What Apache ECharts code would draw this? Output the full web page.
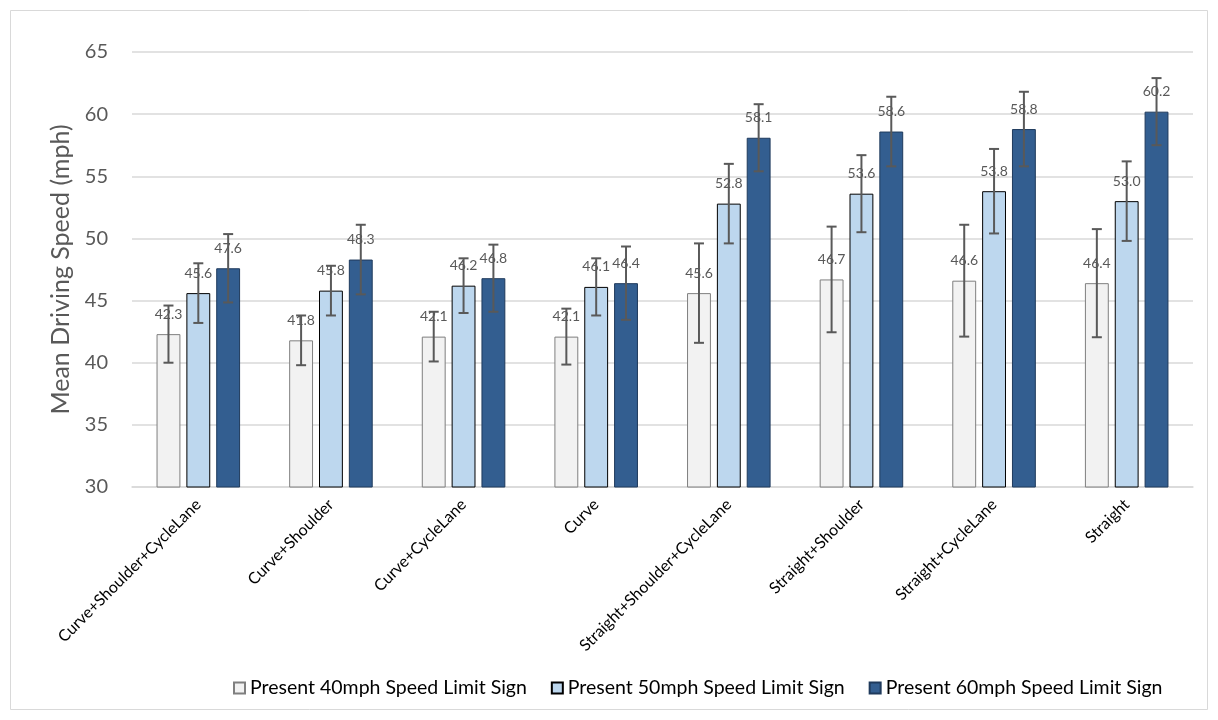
<!DOCTYPE html>
<html>
<head>
<meta charset="utf-8">
<title>Mean Driving Speed</title>
<script src="https://cdn.jsdelivr.net/npm/echarts@6/dist/echarts.min.js"></script>
<style>
  html, body { margin: 0; padding: 0; background: #fff; }
  #chart { width: 1218px; height: 720px; }
</style>
</head>
<body>
<div id="chart"></div>
<script>
// categories and series values
const categories = ['Curve+Shoulder+CycleLane', 'Curve+Shoulder', 'Curve+CycleLane', 'Curve',
    'Straight+Shoulder+CycleLane', 'Straight+Shoulder', 'Straight+CycleLane', 'Straight'];
const seriesNames = ['Present 40mph Speed Limit Sign', 'Present 50mph Speed Limit Sign', 'Present 60mph Speed Limit Sign'];

const speed40 = [42.3, 41.8, 42.1, 42.1, 45.6, 46.7, 46.6, 46.4];
const speed50 = [45.6, 45.8, 46.2, 46.1, 52.8, 53.6, 53.8, 53.0];
const speed60 = [47.6, 48.3, 46.8, 46.4, 58.1, 58.6, 58.8, 60.2];

// +/- error bar half-lengths
const err40 = [2.3, 2.0, 2.0, 2.25, 4.0, 4.25, 4.5, 4.35];
const err50 = [2.4, 2.0, 2.2, 2.3, 3.2, 3.1, 3.4, 3.2];
const err60 = [2.75, 2.8, 2.7, 2.95, 2.7, 2.8, 3.0, 2.7];

const yTicks = [30, 35, 40, 45, 50, 55, 60, 65];

const FONT = 'Lato';
const BAR_W = 0.18;   // fraction of category band
const BAR_GAP = 0.25; // fraction of bar width

const chart = echarts.init(document.getElementById('chart'), null, { renderer: 'canvas' });

function barSeries(name, values, fill, border) {
    return {
        name: name,
        type: 'bar',
        data: values,
        barWidth: (BAR_W * 100) + '%',
        barGap: (BAR_GAP * 100) + '%',
        itemStyle: { color: fill, borderColor: border, borderWidth: 1 },
        label: {
            show: true,
            position: 'top',
            distance: 13,
            formatter: p => p.value.toFixed(1),
            color: '#595959',
            fontFamily: FONT,
            fontSize: 14
        },
        z: 2
    };
}

// error bars drawn with a custom series, shifted to sit on the matching bar
function errorSeries(idx, values, errs) {
    return {
        type: 'custom',
        name: 'err' + idx,
        data: values.map((v, i) => [i, v, errs[i]]),
        encode: { x: 0, y: 1 },
        z: 5,
        silent: true,
        renderItem: function (params, api) {
            const band = api.size([1, 0])[0];
            const w = band * BAR_W;
            const off = (idx - 1) * (w + w * BAR_GAP);
            const c = api.value(0), v = api.value(1), e = api.value(2);
            const top = api.coord([c, v + e]);
            const bot = api.coord([c, v - e]);
            const x = top[0] + off;
            const cap = 5;
            const style = { stroke: '#595959', lineWidth: 2 };
            return {
                type: 'group',
                children: [
                    { type: 'line', shape: { x1: x, y1: top[1], x2: x, y2: bot[1] }, style: style },
                    { type: 'line', shape: { x1: x - cap, y1: top[1], x2: x + cap, y2: top[1] }, style: style },
                    { type: 'line', shape: { x1: x - cap, y1: bot[1], x2: x + cap, y2: bot[1] }, style: style }
                ]
            };
        }
    };
}

const option = {
    backgroundColor: '#ffffff',
    animation: false,
    graphic: [{
        type: 'rect',
        shape: { x: 10.5, y: 10.5, width: 1197, height: 699 },
        style: { fill: 'none', stroke: '#d9d9d9', lineWidth: 1 },
        silent: true
    }],
    grid: { left: 132, right: 25, top: 52, bottom: 233 },
    legend: {
        data: seriesNames,
        bottom: 17,
        left: 228,
        itemWidth: 11,
        itemHeight: 11,
        itemGap: 24,
        icon: 'rect',
        textStyle: { fontFamily: FONT, fontSize: 19.5, color: '#000' }
    },
    xAxis: {
        type: 'category',
        data: categories,
        axisLine: { lineStyle: { color: '#d9d9d9', width: 1.5 } },
        axisTick: { show: false },
        axisLabel: {
            rotate: 45,
            interval: 0,
            margin: 15,
            color: '#000',
            fontFamily: FONT,
            fontSize: 16
        }
    },
    yAxis: {
        type: 'value',
        min: 30,
        max: 65,
        interval: 5,
        name: 'Mean Driving Speed (mph)',
        nameLocation: 'middle',
        nameGap: 58,
        nameTextStyle: { fontFamily: FONT, fontSize: 25, color: '#595959' },
        axisLine: { show: false },
        axisTick: { show: false },
        axisLabel: {
            margin: 24,
            color: '#595959',
            fontFamily: FONT,
            fontSize: 20,
            formatter: v => yTicks.indexOf(v) >= 0 ? String(v) : ''
        },
        splitLine: { lineStyle: { color: '#d9d9d9', width: 1.5 } }
    },
    series: [
        barSeries(seriesNames[0], speed40, '#f2f2f2', '#7f7f7f'),
        barSeries(seriesNames[1], speed50, '#bdd7ee', '#000000'),
        barSeries(seriesNames[2], speed60, '#335e90', '#1f3a5c'),
        errorSeries(0, speed40, err40),
        errorSeries(1, speed50, err50),
        errorSeries(2, speed60, err60)
    ]
};

chart.setOption(option);
</script>
</body>
</html>
